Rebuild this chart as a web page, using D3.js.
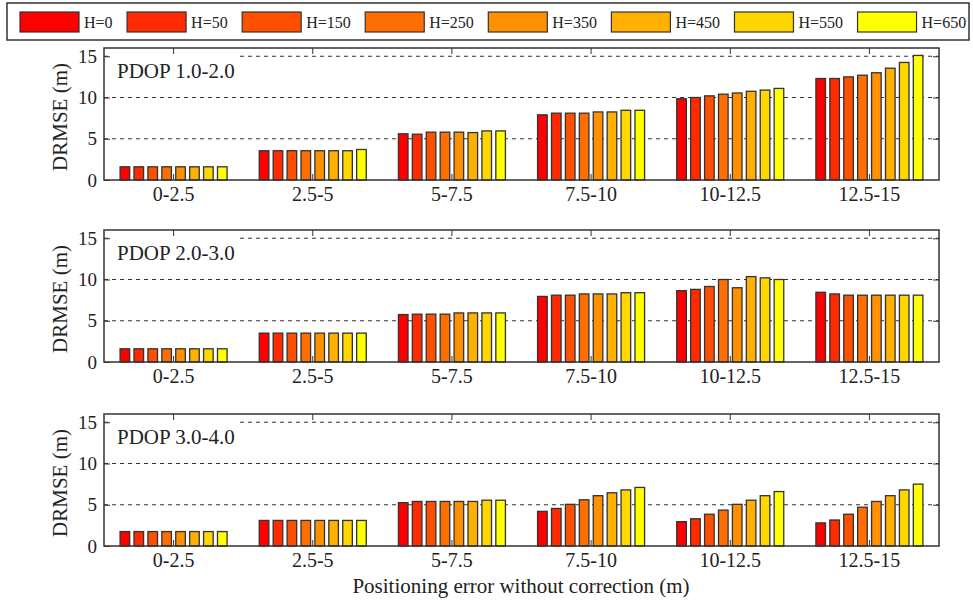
<!DOCTYPE html>
<html>
<head>
<meta charset="utf-8">
<script src="https://cdn.jsdelivr.net/npm/d3@7"></script>
<style>
  body { margin: 0; background: #fff; }
  text { font-family: "Liberation Serif", "DejaVu Serif", serif; fill: #222; }
</style>
</head>
<body>
<svg id="s"></svg>
<script>
// groups along x
var categories = ['0-2.5', '2.5-5', '5-7.5', '7.5-10', '10-12.5', '12.5-15'];
// series (antenna height)
var series = ['H=0', 'H=50', 'H=150', 'H=250', 'H=350', 'H=450', 'H=550', 'H=650'];
var colors = ['#ff0000', '#ff2a00', '#ff5000', '#ff6e00', '#ff9000', '#ffb000', '#ffd600', '#ffff00'];
var yTicks = [0, 5, 10, 15];
var panelTitles = ['PDOP 1.0-2.0', 'PDOP 2.0-3.0', 'PDOP 3.0-4.0'];

// DRMSE values, one row per category, one entry per series
var pdop1 = [
  [1.6, 1.6, 1.6, 1.6, 1.6, 1.6, 1.6, 1.6],
  [3.55, 3.55, 3.55, 3.55, 3.55, 3.55, 3.55, 3.7],
  [5.6, 5.55, 5.8, 5.8, 5.8, 5.75, 5.95, 5.95],
  [7.9, 8.1, 8.1, 8.1, 8.25, 8.25, 8.45, 8.45],
  [9.85, 10.0, 10.2, 10.4, 10.55, 10.75, 10.9, 11.1],
  [12.3, 12.3, 12.5, 12.7, 13.0, 13.55, 14.25, 15.1]
];
var pdop2 = [
  [1.6, 1.6, 1.6, 1.6, 1.6, 1.6, 1.6, 1.6],
  [3.5, 3.5, 3.5, 3.5, 3.5, 3.5, 3.5, 3.5],
  [5.75, 5.8, 5.8, 5.8, 5.95, 5.95, 5.95, 5.95],
  [7.95, 8.1, 8.1, 8.25, 8.25, 8.25, 8.4, 8.4],
  [8.65, 8.8, 9.15, 10.0, 9.0, 10.35, 10.2, 10.0],
  [8.45, 8.25, 8.1, 8.1, 8.1, 8.1, 8.1, 8.1]
];
var pdop3 = [
  [1.75, 1.75, 1.75, 1.75, 1.75, 1.75, 1.75, 1.75],
  [3.1, 3.1, 3.1, 3.1, 3.1, 3.1, 3.1, 3.1],
  [5.25, 5.4, 5.4, 5.4, 5.4, 5.4, 5.55, 5.55],
  [4.2, 4.55, 5.05, 5.6, 6.1, 6.45, 6.8, 7.1],
  [2.95, 3.3, 3.85, 4.35, 5.05, 5.55, 6.1, 6.6],
  [2.8, 3.15, 3.85, 4.7, 5.4, 6.1, 6.8, 7.5]
];
var panels = [pdop1, pdop2, pdop3];

var W = 973, H = 600;
var left = 104, right = 939, panelH = 132;
var tops = [48, 230, 414];

var svg = d3.select('#s').attr('width', W).attr('height', H);

var x = d3.scaleBand().domain(categories).range([left, right]);
var xInner = d3.scaleBand().domain(series).range([0, 107]).paddingInner(0.31);
var color = d3.scaleOrdinal().domain(series).range(colors);

// legend
var lg = svg.append('g');
lg.append('rect')
  .attr('x', 7).attr('y', 3).attr('width', 962).attr('height', 37)
  .attr('fill', '#fff').attr('stroke', '#333').attr('stroke-width', 1.5);
var lx = 20;
series.forEach(function(s, i) {
  lg.append('rect')
    .attr('x', lx).attr('y', 12).attr('width', 59).attr('height', 20)
    .attr('fill', color(s)).attr('stroke', '#333').attr('stroke-width', 1.2);
  var t = lg.append('text')
    .attr('x', lx + 64).attr('y', 28)
    .style('font-size', '16px')
    .text(s);
  lx += 64 + t.node().getComputedTextLength() + 14.5;
});

panels.forEach(function(data, p) {
  var top = tops[p], bottom = top + panelH;
  var y = d3.scaleLinear().domain([0, 16]).range([bottom, top]);
  var g = svg.append('g');

  // dashed grid
  g.selectAll('.grid')
    .data(yTicks.filter(function(d) { return d > 0; }))
    .enter()
    .append('line')
    .attr('x1', left).attr('x2', right)
    .attr('y1', function(d) { return y(d); })
    .attr('y2', function(d) { return y(d); })
    .attr('stroke', '#333').attr('stroke-dasharray', '4,4');

  // panel title on white box
  g.append('rect')
    .attr('x', left + 8).attr('y', top + 1)
    .attr('width', 126).attr('height', y(15) - top + 6)
    .attr('fill', '#fff');
  g.append('text')
    .attr('x', left + 13).attr('y', top + 30)
    .style('font-size', '21px')
    .text(panelTitles[p]);

  // bars
  var grp = g.selectAll('.grp')
    .data(data)
    .enter()
    .append('g')
    .attr('transform', function(d, i) {
      return 'translate(' + (x(categories[i]) + (x.bandwidth() - 107) / 2) + ',0)';
    });
  grp.selectAll('rect')
    .data(function(d) { return d.map(function(v, j) { return {s: series[j], v: v}; }); })
    .enter()
    .append('rect')
    .attr('x', function(d) { return xInner(d.s); })
    .attr('width', xInner.bandwidth())
    .attr('y', function(d) { return y(d.v); })
    .attr('height', function(d) { return bottom - y(d.v); })
    .attr('fill', function(d) { return color(d.s); })
    .attr('stroke', '#333').attr('stroke-width', 1.3);

  // frame
  g.append('rect')
    .attr('x', left).attr('y', top).attr('width', right - left).attr('height', panelH)
    .attr('fill', 'none').attr('stroke', '#333').attr('stroke-width', 1.5);

  // axes with inward ticks
  var ax = g.append('g').attr('transform', 'translate(' + left + ',0)')
    .call(d3.axisLeft(y).tickValues(yTicks).tickSizeInner(-6).tickSizeOuter(0).tickPadding(7));
  ax.select('.domain').remove();
  ax.selectAll('text').style('font-size', '19px').attr('font-family', null).attr('fill', '#222');
  ax.selectAll('line').attr('stroke', '#333');

  var ar = g.append('g').attr('transform', 'translate(' + right + ',0)')
    .call(d3.axisRight(y).tickValues(yTicks.filter(function(d) { return d > 0; })).tickSizeInner(-6).tickSizeOuter(0).tickFormat(''));
  ar.select('.domain').remove();
  ar.selectAll('line').attr('stroke', '#333');

  var ab = g.append('g').attr('transform', 'translate(0,' + bottom + ')')
    .call(d3.axisBottom(x).tickSizeInner(-6).tickSizeOuter(0).tickPadding(7));
  ab.select('.domain').remove();
  ab.selectAll('text').style('font-size', '20px').attr('font-family', null).attr('fill', '#222');
  ab.selectAll('line').attr('stroke', '#333');

  var at = g.append('g').attr('transform', 'translate(0,' + top + ')')
    .call(d3.axisTop(x).tickSizeInner(-6).tickSizeOuter(0).tickFormat(''));
  at.select('.domain').remove();
  at.selectAll('line').attr('stroke', '#333');

  g.append('text')
    .attr('transform', 'translate(67,' + (top + panelH / 2 + 3) + ') rotate(-90)')
    .attr('text-anchor', 'middle')
    .style('font-size', '21px')
    .text('DRMSE (m)');
});

svg.append('text')
  .attr('x', 521).attr('y', 593)
  .attr('text-anchor', 'middle')
  .style('font-size', '21px')
  .text('Positioning error without correction (m)');
</script>
</body>
</html>
